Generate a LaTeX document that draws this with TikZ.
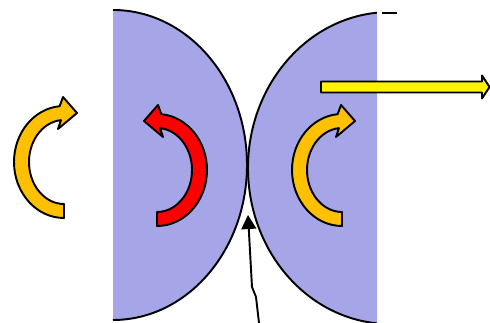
\documentclass[tikz,border=0pt]{standalone}
\usetikzlibrary{arrows.meta}
\definecolor{diskblue}{RGB}{165,165,232}
\definecolor{amber}{RGB}{255,192,0}
\tikzset{
  outline/.style={line width=1.1pt, line join=round},
  pics/turn/.style={code={
    \filldraw[outline, fill=#1] (0,-56) arc[start angle=270, end angle=95, x radius=50, y radius=56]
      -- (-1,65) -- (13,49) -- (-6,33) -- (95:35 and 42)
      arc[start angle=95, end angle=270, x radius=35, y radius=42] -- cycle;
  }}
}
\begin{document}
\begin{tikzpicture}[x=0.02cm, y=0.02cm]
  \useasboundingbox (0,0) rectangle (490,323);
  % left half disk
  \fill[diskblue] (113,313) arc[start angle=90, end angle=-90, x radius=134, y radius=155] -- cycle;
  \draw[outline] (113,313) arc[start angle=90, end angle=-90, x radius=134, y radius=155];
  % right half disk
  \begin{scope}
    \clip (0,0) rectangle (377,323);
    \fill[diskblue] (390,155) ellipse [x radius=142, y radius=156];
  \end{scope}
  \draw[outline] (377,310.3) arc[start angle=95.25, end angle=264.75, x radius=142, y radius=156];
  \draw[outline] (382,310) -- (397,310);
  % rotation arrows
  \pic at (64,161) {turn=amber};
  \pic[xscale=-1] at (157,153) {turn=red};
  \pic at (342,153) {turn=amber};
  % yellow arrow
  \coordinate (ystart) at (321,236);
  \coordinate (ytip) at (489.5,236);
  \filldraw[outline, fill=yellow] (ystart) ++(0,5.5) -- ++(161,0) -- ++(0,6) -- (ytip)
    -- ++(-7.5,-11.5) -- ++(0,6) -- ++(-161,0) -- cycle;
  % contact arrow
  \coordinate (ctail) at (259,0);
  \coordinate (ctip) at (248,108);
  \draw[line width=1.1pt, -{Triangle[length=8pt, width=8.5pt]}]
    (ctail) -- (256,26) -- (252,36) -- (ctip);
\end{tikzpicture}
\end{document}
